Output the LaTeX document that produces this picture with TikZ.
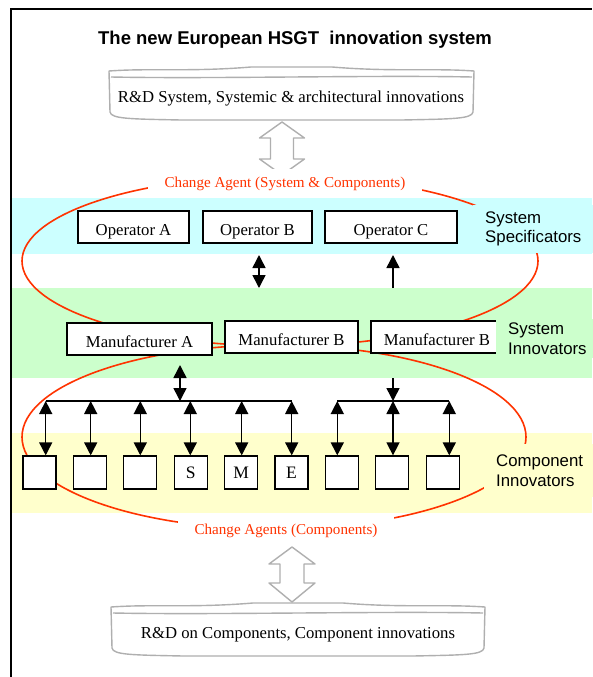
\documentclass[tikz,border=0pt]{standalone}
\usepackage{fontspec}
\setmainfont{Liberation Serif}
\setsansfont{Liberation Sans}
\usetikzlibrary{arrows.meta}
\definecolor{agentred}{RGB}{255,51,0}
\definecolor{specband}{RGB}{204,255,255}
\definecolor{innoband}{RGB}{204,255,204}
\definecolor{compband}{RGB}{255,255,204}
\definecolor{rdgray}{RGB}{175,175,175}

\begin{document}
\begin{tikzpicture}[x=1pt, y=-1pt,
  box/.style={draw, line width=1.3pt, fill=white, inner sep=0pt, text height=16pt, text depth=0pt, font=\fontsize{16.7}{20}\selectfont},
  cbox/.style={box, minimum width=33pt, minimum height=33pt, text height=12pt, font=\fontsize{17.5}{20}\selectfont},
  lab/.style={font=\sffamily\fontsize{16.8}{19.5}\selectfont, align=left, anchor=west, inner xsep=12pt},
  agent/.style={text=agentred, fill=white, font=\fontsize{15.1}{18}\selectfont, inner xsep=17pt, inner ysep=8pt, anchor=base},
  rdline/.style={draw=rdgray, line width=1.4pt, fill=white, line join=round},
  dbl/.style={line width=1.5pt, {Triangle[length=13pt,width=13pt]}-{Triangle[length=13pt,width=13pt]}},
  sgl/.style={line width=1.5pt, -{Triangle[length=13pt,width=13pt]}}]
  \useasboundingbox (0,0) rectangle (592,677);
  \draw[line width=2pt] (11,677) -- (11,9) -- (592,9);
  % bands
  \fill[specband] (12,198) rectangle (592,254);
  \fill[innoband] (12,288) rectangle (592,378);
  \fill[compband] (12,433) rectangle (592,513);
  % change agents
  \draw[agentred, line width=1.6pt] (280,261) ellipse [x radius=258, y radius=85];
  \draw[agentred, line width=1.6pt] (274,437) ellipse [x radius=252, y radius=92];
  \node[font=\sffamily\bfseries\fontsize{18.5}{22}\selectfont, anchor=base] (title) at (295,45) {The new European HSGT\ \ innovation system};
  % R&D boxes
  \foreach \xa/\xb/\ya/\yb in {111/472/67/119, 113/483/603/655} {
    \draw[rdline] (\xa-2,\ya+4) .. controls ({\xa+40},{\ya+1}) and ({\xa+80},{\ya+5}) .. ({\xa+140},\ya)
      -- ({\xb-140},\ya) .. controls ({\xb-80},{\ya+5}) and ({\xb-40},{\ya+1}) .. (\xb+2,\ya+4)
      -- (\xb+1,\yb-7) .. controls (\xb,\yb) and ({\xb-20},\yb) .. ({\xb-70},\yb+1)
      -- ({\xa+70},\yb+1) .. controls ({\xa+20},\yb) and (\xa,\yb) .. (\xa-1,\yb-7) -- cycle;
    \draw[rdgray, line width=1.4pt] (\xa,\ya+10) .. controls ({\xa+100},{\ya+12}) and ({\xb-100},{\ya+8}) .. (\xb,\ya+10);
  }
  \node[font=\fontsize{16.7}{20}\selectfont, anchor=base] (rdsys) at (291,102) {R\&D System, Systemic \& architectural innovations};
  \node[font=\fontsize{16.7}{20}\selectfont, anchor=base] (rdcomp) at (298,638) {R\&D on Components, Component innovations};
  \coordinate (rdsysb) at (282,122);
  \coordinate (rdcompt) at (292,602);
  \draw[rdline] (rdsysb) -- ++(22.5,16) -- ++(-11,0) -- ++(0,21) -- ++(11,0) -- ++(-22.5,16)
    -- ++(-22.5,-16) -- ++(11,0) -- ++(0,-21) -- ++(-11,0) -- cycle;
  \draw[rdline] (rdcompt) -- ++(23,-19) -- ++(-11,0) -- ++(0,-19) -- ++(11,0) -- ++(-23,-17)
    -- ++(-23,17) -- ++(11,0) -- ++(0,19) -- ++(-11,0) -- cycle;
  \node[agent] (agsys) at (285,187) {Change Agent (System \& Components)};
  \node[agent] (agcomp) at (286,534) {Change Agents (Components)};
  % operators and manufacturers
  \node[box, minimum width=111pt, minimum height=32pt] (opA) at (133.5,227) {Operator A};
  \node[box, minimum width=109pt, minimum height=32pt] (opB) at (257.5,227) {Operator B};
  \node[box, minimum width=132pt, minimum height=32pt] (opC) at (391,227) {Operator C};
  \node[box, minimum width=145pt, minimum height=32pt] (mfA) at (139.5,339) {Manufacturer A};
  \node[box, minimum width=133pt, minimum height=32pt] (mfB) at (291.5,337) {Manufacturer B};
  \node[box, minimum width=132pt, minimum height=32pt] (mfC) at (437,337) {Manufacturer B};
  \node[lab, fill=specband, inner ysep=7pt] (spec) at (473,229) {System\\Specificators};
  \node[lab, fill=innoband, inner ysep=4pt] (inno) at (496,338.5) {System\\Innovators};
  \node[lab, fill=compband, inner ysep=11pt] (comp) at (484,470.5) {Component\\Innovators};
  % component firms
  \foreach \i/\t in {1/,2/,3/,4/S,5/M,6/E,7/,8/,9/}
    \node[cbox] (c\i) at ({39.5+50.4*(\i-1)},472.5) {\t};
  \foreach \x/\i in {45.7/1, 90.7/2, 140.3/3, 190.3/4, 241.7/5, 291.7/6, 337.3/7, 393/8, 449.3/9} {
    \coordinate (b\i) at (\x,401);
    \draw[dbl] (b\i) -- (b\i |- c\i.north);
  }
  \draw[line width=1.5pt] (b1) -- (b6) (b7) -- (b9);
  % links between levels
  \coordinate (opBs) at (259,255);
  \coordinate (mfBn) at (259,288);
  \coordinate (opCs) at (393,255);
  \coordinate (mfCn) at (393,288);
  \coordinate (mfAs) at (180,365);
  \coordinate (mfCs) at (393,378);
  \draw[dbl] (opBs) -- (mfBn);
  \draw[sgl] (mfCn) -- (opCs);
  \draw[dbl] (mfAs) -- (mfAs |- b1);
  \draw[sgl] (mfCs) -- (b8);
\end{tikzpicture}
\end{document}
